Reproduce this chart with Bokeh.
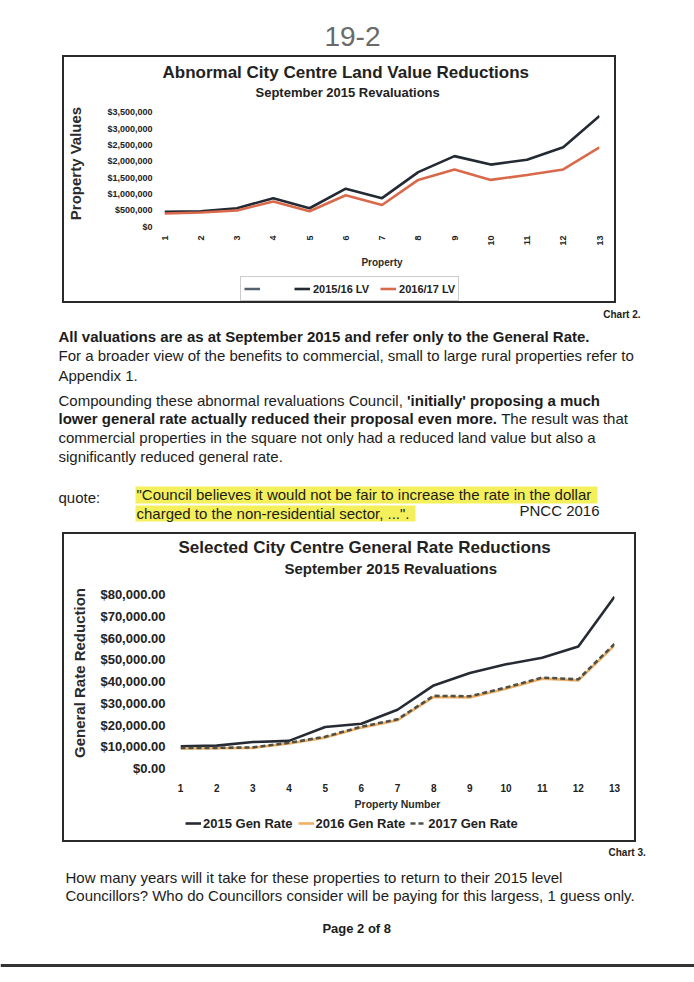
import math
from bokeh.plotting import figure
from bokeh.models import (Range1d, FixedTicker, NumeralTickFormatter, Legend, LegendItem,
                          Title, Label, Spacer, BoxAnnotation, Span)
from bokeh.layouts import column, row
from bokeh.embed import file_html
from bokeh.resources import INLINE

FONT = "Liberation Sans"
INK = "#1c1c1c"
BOX = "2px solid #2a2a2a"

# ---------------- data ----------------
properties = [1, 2, 3, 4, 5, 6, 7, 8, 9, 10, 11, 12, 13]
lv_2015_16 = [450000, 470000, 560000, 870000, 560000, 1160000, 870000,
              1670000, 2160000, 1900000, 2050000, 2430000, 3390000]
lv_2016_17 = [400000, 430000, 490000, 770000, 470000, 960000, 660000,
              1430000, 1750000, 1430000, 1580000, 1750000, 2430000]
lv_ticks = [0, 500000, 1000000, 1500000, 2000000, 2500000, 3000000, 3500000]

rate_2015 = [10200, 10500, 12200, 12700, 19100, 20600, 27000,
             38200, 43900, 47900, 50900, 56100, 79000]
rate_2016 = [9200, 9300, 9500, 11500, 14200, 18800, 22200,
             32900, 32700, 36700, 41300, 40500, 56600]
rate_2017 = [9400, 9500, 9700, 11800, 14600, 19200, 22600,
             33400, 33200, 37200, 41800, 41000, 57300]
rate_ticks = [0, 10000, 20000, 30000, 40000, 50000, 60000, 70000, 80000]

chart1_title = "Abnormal City Centre Land Value Reductions"
chart2_title = "Selected City Centre General Rate Reductions"
subtitle_text = "September 2015 Revaluations"


def clean_axes(p):
    for ax in p.axis:
        ax.axis_line_color = None
        ax.major_tick_line_color = None
        ax.minor_tick_line_color = None
        ax.major_label_text_font = FONT
        ax.major_label_text_font_style = "bold"
        ax.major_label_text_color = "#222222"
        ax.axis_label_text_font = FONT
        ax.axis_label_text_font_style = "bold"
        ax.axis_label_text_color = "#2b2b2b"
    p.grid.visible = False


def add_titles(p, main, sub, main_size, sub_size, main_offset, sub_offset):
    p.add_layout(Title(text=sub, align="left", offset=sub_offset, text_font=FONT,
                       text_font_size=sub_size, text_font_style="bold",
                       text_color="#222222", standoff=2), "above")
    p.add_layout(Title(text=main, align="left", offset=main_offset, text_font=FONT,
                       text_font_size=main_size, text_font_style="bold",
                       text_color="#222222", standoff=0), "above")


def legend_strip(width, height):
    # legend-only strip: its ranges lie outside the data, so only the legend shows
    f = figure(width=width, height=height, x_range=Range1d(-20, -19), y_range=Range1d(-2, -1),
               x_axis_location=None, y_axis_location=None, output_backend="svg",
               toolbar_location=None, min_border=0, outline_line_color=None,
               styles={"border": BOX, "border-top": "none"})
    f.grid.visible = False
    return f


# ---------------- chart 1 ----------------
p1 = figure(width=554, height=213, title=None,
            x_range=Range1d(1, 13), y_range=Range1d(0, 3500000 * 137 / 124),
            output_backend="svg", toolbar_location=None,
            min_border_left=98, min_border_right=19, min_border_top=43, min_border_bottom=33,
            outline_line_color=None, background_fill_color="white",
            styles={"border": BOX, "border-bottom": "none"})
add_titles(p1, chart1_title, subtitle_text, "17px", "13px", -2, 91)

p1.line(properties, lv_2015_16, line_color="#232a33", line_width=2.6)
p1.line(properties, lv_2016_17, line_color="#d9694b", line_width=2.6)

clean_axes(p1)
p1.xaxis.ticker = FixedTicker(ticks=properties)
p1.xaxis.major_label_orientation = math.pi / 2
p1.xaxis.major_label_text_font_size = "9px"
p1.xaxis.major_label_standoff = 3
p1.xaxis.axis_label = "Property"
p1.xaxis.axis_label_text_font_size = "10px"
p1.xaxis.axis_label_standoff = 8
p1.yaxis.ticker = FixedTicker(ticks=lv_ticks)
p1.yaxis.formatter = NumeralTickFormatter(format="$0,0")
p1.yaxis.major_label_text_font_size = "9px"
p1.yaxis.major_label_standoff = 6
p1.yaxis.axis_label = "Property Values"
p1.yaxis.axis_label_text_font_size = "15px"
p1.yaxis.axis_label_standoff = 20

lg1 = legend_strip(554, 35)
k0 = lg1.line(properties, lv_2015_16, line_color="#56616e", line_width=2.5)
k1 = lg1.line(properties, lv_2015_16, line_color="#232a33", line_width=2.6)
k2 = lg1.line(properties, lv_2016_17, line_color="#d9694b", line_width=2.6)
lg1.add_layout(Legend(items=[LegendItem(label=" ", renderers=[k0]),
                             LegendItem(label="2015/16 LV", renderers=[k1]),
                             LegendItem(label="2016/17 LV", renderers=[k2])],
                      orientation="horizontal", location=(76, 2),
                      border_line_color="#9a9a9a", border_line_width=1,
                      label_text_font=FONT, label_text_font_size="11px",
                      label_text_font_style="bold", label_text_color="#222222",
                      glyph_width=16, glyph_height=17, label_height=17,
                      label_standoff=3, spacing=11, padding=3, margin=0))

# ---------------- chart 2 ----------------
p2 = figure(width=574, height=278, title=None,
            x_range=Range1d(1, 13), y_range=Range1d(0, 80000 * 191 / 174),
            output_backend="svg", toolbar_location=None,
            min_border_left=116, min_border_right=24, min_border_top=43, min_border_bottom=44,
            outline_line_color=None, background_fill_color="white",
            styles={"border": BOX, "border-bottom": "none"})
add_titles(p2, chart2_title, subtitle_text, "17px", "15px", -2, 104)

p2.line(properties, rate_2015, line_color="#262b33", line_width=2.6)
p2.line(properties, rate_2016, line_color="#efb064", line_width=2.6)
p2.line(properties, rate_2017, line_color="#4e5048", line_width=2.6, line_dash="5 3")

clean_axes(p2)
p2.xaxis.ticker = FixedTicker(ticks=properties)
p2.xaxis.major_label_text_font_size = "10px"
p2.xaxis.major_label_standoff = 9
p2.xaxis.axis_label = "Property Number"
p2.xaxis.axis_label_text_font_size = "10.5px"
p2.xaxis.axis_label_standoff = 3
p2.yaxis.ticker = FixedTicker(ticks=rate_ticks)
p2.yaxis.formatter = NumeralTickFormatter(format="$0,0.00")
p2.yaxis.major_label_text_font_size = "13px"
p2.yaxis.major_label_standoff = 9
p2.yaxis.axis_label = "General Rate Reduction"
p2.yaxis.axis_label_text_font_size = "15px"
p2.yaxis.axis_label_standoff = 9

lg2 = legend_strip(574, 32)
m1 = lg2.line(properties, rate_2015, line_color="#262b33", line_width=2.6)
m2 = lg2.line(properties, rate_2016, line_color="#efb064", line_width=2.6)
m3 = lg2.line(properties, rate_2017, line_color="#4e5048", line_width=2.6, line_dash="5 3")
lg2.add_layout(Legend(items=[LegendItem(label="2015 Gen Rate", renderers=[m1]),
                             LegendItem(label="2016 Gen Rate", renderers=[m2]),
                             LegendItem(label="2017 Gen Rate", renderers=[m3])],
                      orientation="horizontal", location=(5, 11),
                      border_line_color=None, background_fill_alpha=0,
                      label_text_font=FONT, label_text_font_size="13px",
                      label_text_font_style="bold", label_text_color="#222222",
                      glyph_width=16, glyph_height=16, label_height=16,
                      label_standoff=2, spacing=5, padding=2, margin=0))


# ---------------- page text ----------------
def text_panel(height):
    f = figure(width=694, height=height, x_range=Range1d(0, 694), y_range=Range1d(height, 0),
               x_axis_location=None, y_axis_location=None, output_backend="svg",
               toolbar_location=None, min_border=0, outline_line_color=None)
    f.grid.visible = False
    return f


def put(f, x, y, text, size="15px", bold=False, align="left", color=INK, baseline="middle"):
    f.add_layout(Label(x=x, y=y, text=text, text_font=FONT, text_font_size=size,
                       text_font_style="bold" if bold else "normal", text_align=align,
                       text_baseline=baseline, text_color=color))


header = text_panel(55)
put(header, 352, 36, "19-2", size="28px", color="#6a6a6a", align="center")

L = 58
body = text_panel(225)
put(body, 640, 1, "Chart 2.", size="10px", bold=True, align="right", baseline="top")
put(body, L, 29, "All valuations are as at September 2015 and refer only to the General Rate.",
    bold=True)
put(body, L, 48, "For a broader view of the benefits to commercial, small to large rural properties refer to")
put(body, L, 68, "Appendix 1.")
put(body, L, 93, "Compounding these abnormal revaluations Council, ")
put(body, L + 348.5, 93, "'initially' proposing a much", bold=True)
put(body, L, 111, "lower general rate actually reduced their proposal even more.", bold=True)
put(body, L + 438.5 + 4.2, 111, "The result was that")
put(body, L, 130, "commercial properties in the square not only had a reduced land value but also a")
put(body, L, 149, "significantly reduced general rate.")
body.add_layout(BoxAnnotation(left=135, right=597, top=179, bottom=196, fill_color="#f3ef52",
                              fill_alpha=0.95, line_color=None, level="underlay"))
body.add_layout(BoxAnnotation(left=135, right=415, top=198, bottom=214, fill_color="#f3ef52",
                              fill_alpha=0.95, line_color=None, level="underlay"))
put(body, L, 190, "quote:")
put(body, 136, 187, "\"Council believes it would not be fair to increase the rate in the dollar")
put(body, 136, 206, "charged to the non-residential sector, ...\".")
put(body, 519, 203, "PNCC 2016")

footer = text_panel(136)
put(footer, 608, 0, "Chart 3.", size="10px", bold=True, baseline="top")
put(footer, 65, 31, "How many years will it take for these properties to return to their 2015 level")
put(footer, 65, 49, "Councillors? Who do Councillors consider will be paying for this largess, 1 guess only.")
put(footer, 358, 82, "Page 2 of  8", size="13px", bold=True, align="center")
footer.add_layout(Span(location=119, dimension="width", line_color="#333333", line_width=3))

page = column(header,
              row(Spacer(width=62, height=252), column(p1, lg1)),
              body,
              row(Spacer(width=62, height=314), column(p2, lg2)),
              footer)

open("out.html", "w").write(file_html(page, INLINE))
